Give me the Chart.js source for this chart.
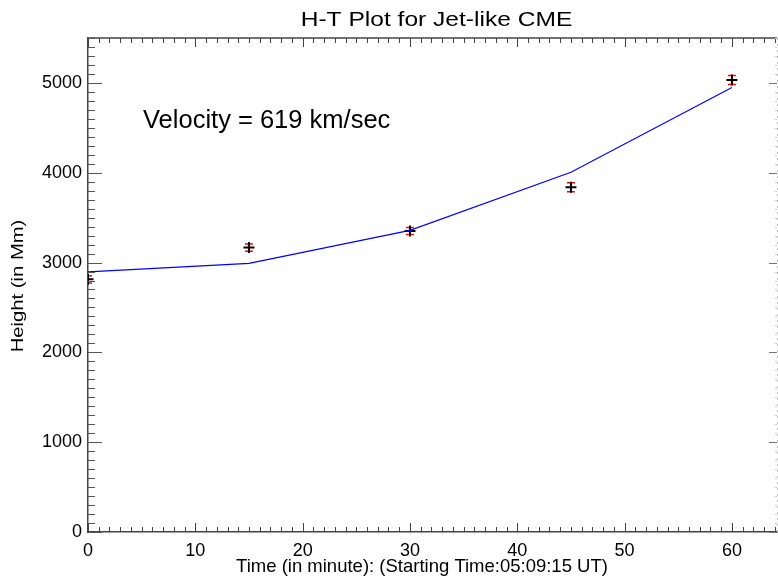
<!DOCTYPE html>
<html>
<head>
<meta charset="utf-8">
<script src="https://cdn.jsdelivr.net/npm/chart.js@4.4.1/dist/chart.umd.min.js"></script>
<style>
  html, body { margin: 0; padding: 0; background: #fff; overflow: hidden; }
  canvas { display: block; }
</style>
</head>
<body>
<canvas id="htChart" width="778" height="583"></canvas>
<script>
// measured heights (Mm) at each time (minutes after start)
const timeMin = [0, 15, 30, 45, 60];
const heightMm = [2813, 3167, 3351, 3839, 5033];
const heightErr = [40, 40, 40, 50, 50];
// fitted curve
const fitHeight = [2897, 2990, 3359, 4005, 4948];

// axis ticks
const xTickValues = [0, 10, 20, 30, 40, 50, 60];
const yTickValues = [0, 1000, 2000, 3000, 4000, 5000];
const xRange = [0, 64.2];
const yRange = [0, 5500];
const xMinorStep = 1;
const yMinorStep = 100;

const titleText = 'H-T Plot for Jet-like CME';
const velocityText = 'Velocity = 619 km/sec';
const xTitleText = 'Time (in minute): (Starting Time:05:09:15 UT)';
const yTitleText = 'Height (in Mm)';
const FONT = '"Liberation Sans", Arial, Helvetica, sans-serif';

// text with an optional stretch along the writing direction
function drawText(ctx, text, x, y, size, stretch, align, angle) {
    ctx.save();
    ctx.translate(x, y);
    if (angle) ctx.rotate(angle);
    ctx.scale(stretch, 1);
    ctx.font = size + 'px ' + FONT;
    ctx.textAlign = align;
    ctx.textBaseline = 'alphabetic';
    ctx.fillStyle = '#000';
    ctx.fillText(text, 0, 0);
    ctx.restore();
}

// red error bars, drawn under the black markers
const errorBars = {
    id: 'errorBars',
    beforeDatasetsDraw(chart) {
        const { ctx, chartArea: a, scales: { x, y } } = chart;
        ctx.save();
        ctx.beginPath();
        ctx.rect(a.left, a.top, a.right - a.left, a.bottom - a.top);
        ctx.clip();
        ctx.strokeStyle = '#ff0000';
        ctx.lineWidth = 1.5;
        timeMin.forEach((t, i) => {
            const px = x.getPixelForValue(t);
            const y1 = y.getPixelForValue(heightMm[i] - heightErr[i]);
            const y2 = y.getPixelForValue(heightMm[i] + heightErr[i]);
            ctx.beginPath();
            ctx.moveTo(px, y1); ctx.lineTo(px, y2);
            ctx.moveTo(px - 4, y1); ctx.lineTo(px + 4, y1);
            ctx.moveTo(px - 4, y2); ctx.lineTo(px + 4, y2);
            ctx.stroke();
        });
        ctx.restore();
    }
};

// box axes with inward major/minor ticks, titles and annotation
const idlFrame = {
    id: 'idlFrame',
    afterDraw(chart) {
        const { ctx, chartArea: a, scales: { x, y } } = chart;
        ctx.save();
        ctx.lineWidth = 1.5;
        ctx.strokeStyle = '#444';
        ctx.beginPath();
        ctx.moveTo(a.left, a.top); ctx.lineTo(a.right, a.top);
        ctx.stroke();

        const isMajor = (v, list) => list.some(t => Math.abs(t - v) < 1e-6);
        // x ticks, bottom and top
        for (let i = 0; xRange[0] + i * xMinorStep <= xRange[1]; i++) {
            const v = xRange[0] + i * xMinorStep;
            const px = Math.round(x.getPixelForValue(v)) + 0.5;
            const len = isMajor(v, xTickValues) ? 9 : 5;
            ctx.lineWidth = 1;
            ctx.strokeStyle = '#444';
            ctx.beginPath();
            ctx.moveTo(px, a.bottom); ctx.lineTo(px, a.bottom - len);
            ctx.moveTo(px, a.top); ctx.lineTo(px, a.top + len);
            ctx.stroke();
        }
        // y ticks, left and right
        for (let i = 0; yRange[0] + i * yMinorStep <= yRange[1]; i++) {
            const v = yRange[0] + i * yMinorStep;
            const py = Math.round(y.getPixelForValue(v)) + 0.5;
            const major = isMajor(v, yTickValues);
            ctx.lineWidth = 1;
            ctx.strokeStyle = '#555';
            ctx.beginPath();
            ctx.moveTo(a.left, py); ctx.lineTo(a.left + (major ? 14 : 7), py);
            ctx.stroke();
            ctx.strokeStyle = major ? '#777' : '#ccc';
            ctx.beginPath();
            ctx.moveTo(a.right, py); ctx.lineTo(a.right - (major ? 8 : 2), py);
            ctx.stroke();
        }
        // right edge, faint dotted
        ctx.strokeStyle = '#bbb';
        ctx.setLineDash([2, 4]);
        ctx.beginPath();
        ctx.moveTo(a.right + 0.5, a.top); ctx.lineTo(a.right + 0.5, a.bottom);
        ctx.stroke();
        ctx.restore();

        drawText(ctx, titleText, (a.left + a.right) / 2 + 4, 26, 21, 1.17, 'center', 0);
        drawText(ctx, velocityText, a.left + 55, 128, 25.5, 1.0, 'left', 0);
        drawText(ctx, xTitleText, 422, 572, 18.5, 1.0, 'center', 0);
        drawText(ctx, yTitleText, 23, (a.top + a.bottom) / 2 + 1, 17, 1.19, 'center', -Math.PI / 2);
    }
};

new Chart(document.getElementById('htChart'), {
    type: 'scatter',
    data: {
        datasets: [
            {
                label: 'fit',
                type: 'line',
                data: timeMin.map((t, i) => ({ x: t, y: fitHeight[i] })),
                borderColor: '#0000ff',
                borderWidth: 1.2,
                pointRadius: 0,
                tension: 0,
                fill: false
            },
            {
                label: 'height',
                data: timeMin.map((t, i) => ({ x: t, y: heightMm[i] })),
                pointStyle: 'cross',
                pointRadius: 5.5,
                borderColor: '#000',
                borderWidth: 2,
                backgroundColor: '#000'
            }
        ]
    },
    options: {
        responsive: false,
        animation: false,
        layout: { autoPadding: false, padding: { top: 38, right: 1 } },
        plugins: {
            legend: { display: false },
            tooltip: { enabled: false }
        },
        scales: {
            x: {
                type: 'linear',
                min: xRange[0],
                max: xRange[1],
                grid: { display: false, drawTicks: false },
                border: { display: true, color: '#444', width: 1.5 },
                afterBuildTicks(scale) { scale.ticks = xTickValues.map(v => ({ value: v })); },
                ticks: {
                    padding: 8,
                    color: '#000',
                    font: { family: FONT, size: 18 },
                    callback: v => String(v)
                },
                afterFit(scale) {
                    scale.height = 51;
                    scale.paddingLeft = 0;
                    scale.paddingRight = 0;
                }
            },
            y: {
                type: 'linear',
                min: yRange[0],
                max: yRange[1],
                grid: { display: false, drawTicks: false },
                border: { display: true, color: '#444', width: 1.5 },
                afterBuildTicks(scale) { scale.ticks = yTickValues.map(v => ({ value: v })); },
                ticks: {
                    padding: 6,
                    color: '#000',
                    font: { family: FONT, size: 18 },
                    callback: v => String(v)
                },
                afterFit(scale) { scale.width = 88; }
            }
        }
    },
    plugins: [errorBars, idlFrame]
});
</script>
</body>
</html>
